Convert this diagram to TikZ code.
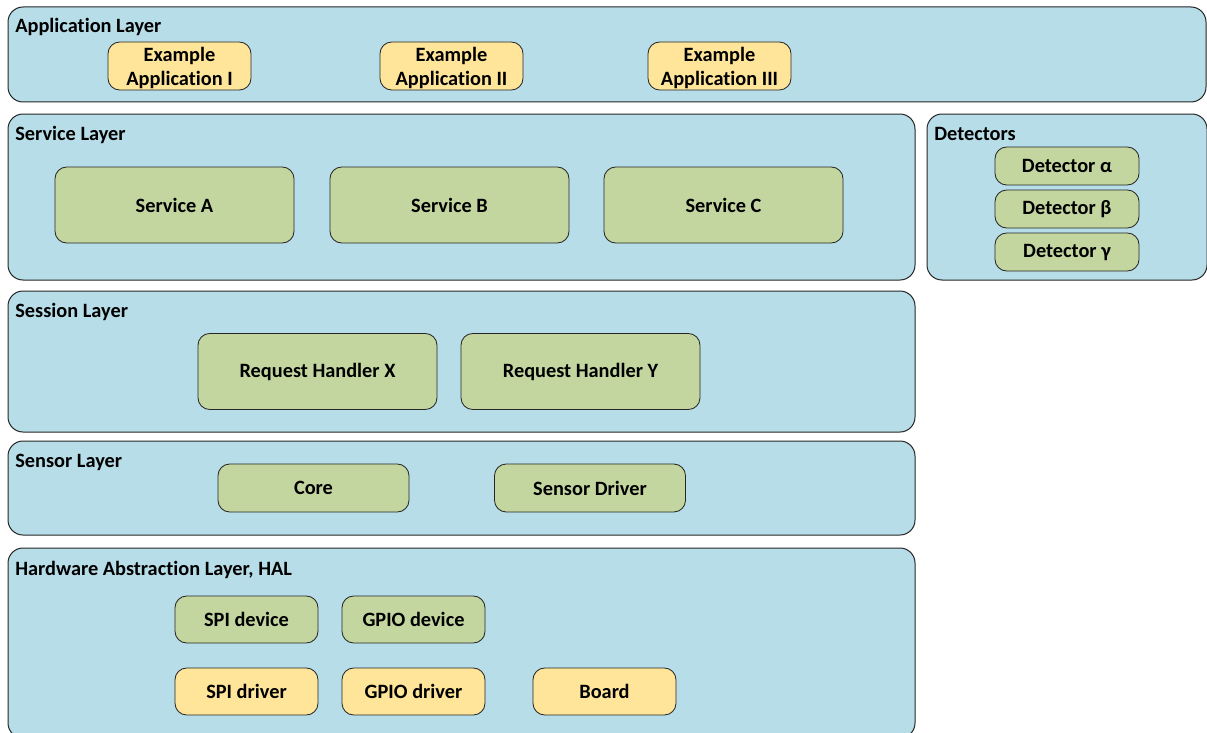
\documentclass[tikz,border=0pt]{standalone}
\usepackage{fontspec}
\setmainfont[Ligatures={NoCommon}]{Carlito}
\definecolor{layerblue}{RGB}{183,221,232}
\definecolor{boxgreen}{RGB}{196,214,160}
\definecolor{boxyellow}{RGB}{255,229,153}
\newcommand{\twoline}[2]{\begin{tabular}{@{}c@{}}#1\\#2\end{tabular}}
\begin{document}
\begin{tikzpicture}
  [x=0.6pt,y=-0.6pt,font=\fontsize{12.2}{14.4}\selectfont\bfseries,
   layer/.style={draw=black!85,line width=0.6pt,fill=layerblue,rounded corners=9pt,inner sep=0pt},
   title/.style={anchor=base west,inner sep=0pt},
   green/.style={draw=black!85,line width=0.5pt,fill=boxgreen,rounded corners=7pt,align=center,inner sep=0pt},
   yellow/.style={draw=black!85,line width=0.5pt,fill=boxyellow,rounded corners=7pt,align=center,inner sep=0pt},
   applabel/.style={label={[inner sep=0pt,yshift=-1.8pt]center:#1}}]
  \useasboundingbox (0,0) rectangle (1207,733);

  % layers
  \node[layer,minimum width=718.8pt,minimum height=57pt] (appl) at (607,54.5) {};
  \node[layer,minimum width=544.2pt,minimum height=99.6pt] (srvl) at (461.5,197) {};
  \node[layer,minimum width=168pt,minimum height=99.6pt] (detl) at (1067,197) {};
  \node[layer,minimum width=544.2pt,minimum height=84.6pt] (sesl) at (461.5,361.5) {};
  \node[layer,minimum width=544.2pt,minimum height=56.4pt] (senl) at (461.5,488) {};
  \node[layer,minimum width=544.2pt,minimum height=114pt] (hall) at (461.5,643) {};

  \node[title] (t1) at (15,33) {Application Layer};
  \node[title] (t2) at (15,140) {Service Layer};
  \node[title] (t3) at (934,140) {Detectors};
  \node[title] (t4) at (15,317) {Session Layer};
  \node[title] (t5) at (15,467) {Sensor Layer};
  \node[title] (t6) at (15,575) {Hardware Abstraction Layer, HAL};

  % application layer
  \node[yellow,minimum width=85.8pt,minimum height=28.8pt,applabel={\twoline{Example}{Application I}}] (app1) at (179.5,66) {};
  \node[yellow,minimum width=85.8pt,minimum height=28.8pt,applabel={\twoline{Example}{Application II}}] (app2) at (451.5,66) {};
  \node[yellow,minimum width=85.8pt,minimum height=28.8pt,applabel={\twoline{Example}{Application III}}] (app3) at (719.5,66) {};

  % service layer
  \node[green,minimum width=143.4pt,minimum height=45.6pt] (srvA) at (174.5,205) {Service A};
  \node[green,minimum width=143.4pt,minimum height=45.6pt] (srvB) at (449.5,205) {Service B};
  \node[green,minimum width=143.4pt,minimum height=45.6pt] (srvC) at (723.5,205) {Service C};

  % detectors
  \node[green,minimum width=86.4pt,minimum height=22.8pt] (det1) at (1067,166) {Detector α};
  \node[green,minimum width=86.4pt,minimum height=22.8pt] (det2) at (1067,209) {Detector β};
  \node[green,minimum width=86.4pt,minimum height=22.8pt] (det3) at (1067,252) {Detector γ};

  % session layer
  \node[green,minimum width=143.4pt,minimum height=45.6pt] (reqX) at (317.5,371.5) {Request Handler X};
  \node[green,minimum width=143.4pt,minimum height=45.6pt] (reqY) at (580.5,371.5) {Request Handler Y};

  % sensor layer
  \node[green,minimum width=114.6pt,minimum height=28.8pt] (core) at (313.5,488) {Core};
  \node[green,minimum width=114.6pt,minimum height=28.8pt] (sdrv) at (590,488) {Sensor Driver};

  % HAL
  \node[green,minimum width=85.8pt,minimum height=28.2pt] (spidev) at (246.5,619.5) {SPI device};
  \node[green,minimum width=85.8pt,minimum height=28.2pt] (gpiodev) at (413.5,619.5) {GPIO device};
  \node[yellow,minimum width=85.8pt,minimum height=28.2pt] (spidrv) at (246.5,691.5) {SPI driver};
  \node[yellow,minimum width=85.8pt,minimum height=28.2pt] (gpiodrv) at (413.5,691.5) {GPIO driver};
  \node[yellow,minimum width=85.8pt,minimum height=28.2pt] (board) at (604.5,691.5) {Board};
\end{tikzpicture}
\end{document}
